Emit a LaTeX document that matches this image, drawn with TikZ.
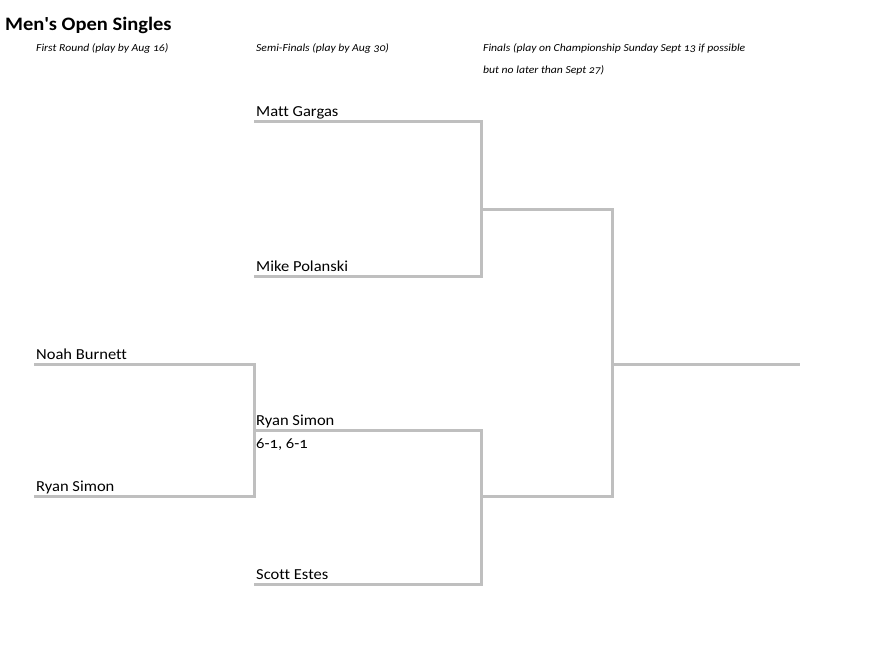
\documentclass[tikz,border=0pt]{standalone}
\usepackage{fontspec}
\setmainfont{Carlito}[Numbers=OldStyle,FakeStretch=1.08,Ligatures=NoCommon]
\definecolor{bracketgray}{RGB}{191,191,191}
\tikzset{
  bracket/.style={draw=bracketgray,line width=3pt},
  player/.style={anchor=base west,inner sep=0pt,font=\fontsize{15.3}{17}\selectfont},
  roundinfo/.style={anchor=base west,inner sep=0pt,font=\itshape\fontsize{10.8}{12}\selectfont},
}

\begin{document}
\begin{tikzpicture}[x=1pt,y=-1pt]
      \useasboundingbox (0,0) rectangle (887,658);
      % title and rounds
      \node[anchor=base west,inner sep=0pt,font=\bfseries\fontsize{19}{21}\selectfont] (title) at (5,31) {Men\textquotesingle s Open Singles};
      \node[roundinfo] (rnd1) at ( 36,52) {First Round (play by Aug 16)};
      \node[roundinfo] (rnd2) at (256,52) {Semi-Finals (play by Aug 30)};
      \node[roundinfo] (rnd3) at (483,52) {Finals (play on Championship Sunday Sept 13 if possible};
      \node[roundinfo] (rnd3b) at (483,74) {but no later than Sept 27)};
      % bracket corners
      \coordinate (nb0) at ( 34,364);
      \coordinate (nb1) at (254,364);
      \coordinate (rs0) at ( 34,496);
      \coordinate (rs1) at (254,496);
      \coordinate (mg0) at (254,122);
      \coordinate (mg1) at (481,122);
      \coordinate (mp0) at (254,276);
      \coordinate (mp1) at (481,276);
      \coordinate (sr0) at (254,430);
      \coordinate (sr1) at (481,430);
      \coordinate (se0) at (254,584);
      \coordinate (se1) at (481,584);
      \coordinate (ft0) at (481,210);
      \coordinate (ft1) at (612,210);
      \coordinate (fb0) at (481,496);
      \coordinate (fb1) at (612,496);
      \coordinate (w0)  at (612,364);
      \coordinate (w1)  at (800,364);
      % lines
      \draw[bracket] (nb0) -- (nb1) -- (rs1) -- (rs0);
      \draw[bracket] (mg0) -- (mg1) -- (mp1) -- (mp0);
      \draw[bracket] (sr0) -- (sr1) -- (se1) -- (se0);
      \draw[bracket] (ft0) -- (ft1) -- (fb1) -- (fb0);
      \draw[bracket] (w0) -- (w1);
      % players
      \node[player] (noah)  at ( 36,359) {Noah Burnett};
      \node[player] (ryan1) at ( 36,491) {Ryan Simon};
      \node[player] (matt)  at (256,117) {Matt Gargas};
      \node[player] (mike)  at (256,271) {Mike Polanski};
      \node[player] (ryan2) at (256,425) {Ryan Simon};
      \node[player] (score) at (256,448) {6-1, 6-1};
      \node[player] (scott) at (256,579) {Scott Estes};
\end{tikzpicture}
\end{document}
